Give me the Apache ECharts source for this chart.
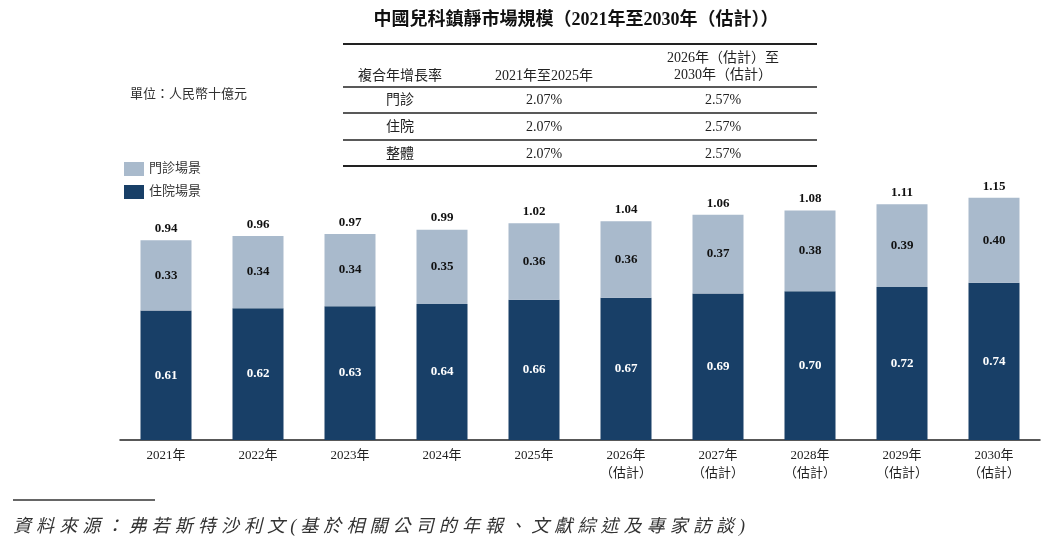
<!DOCTYPE html>
<html>
<head>
<meta charset="utf-8">
<script src="https://cdn.jsdelivr.net/npm/echarts@6/dist/echarts.min.js"></script>
<style>
  html, body { margin: 0; padding: 0; background: #fff; }
  #chart { width: 1058px; height: 552px; }
</style>
</head>
<body>
<div id="chart"></div>
<script>
// data
var years = ["2021年", "2022年", "2023年", "2024年", "2025年",
             "2026年\n（估計）", "2027年\n（估計）", "2028年\n（估計）", "2029年\n（估計）", "2030年\n（估計）"];
var outpatient = [0.33, 0.34, 0.34, 0.35, 0.36, 0.36, 0.37, 0.38, 0.39, 0.40];
var inpatient = [0.61, 0.62, 0.63, 0.64, 0.66, 0.67, 0.69, 0.70, 0.72, 0.74];
var totals = ["0.94", "0.96", "0.97", "0.99", "1.02", "1.04", "1.06", "1.08", "1.11", "1.15"];

var cagrHeader = ["複合年增長率", "2021年至2025年", "2026年（估計）至\n2030年（估計）"];
var cagrRows = ["門診", "住院", "整體"];
var cagrFirst = ["2.07%", "2.07%", "2.07%"];
var cagrSecond = ["2.57%", "2.57%", "2.57%"];

var title = "中國兒科鎮靜市場規模（2021年至2030年（估計））";
var unitText = "單位：人民幣十億元";
var sourceText = "資料來源：弗若斯特沙利文(基於相關公司的年報、文獻綜述及專家訪談)";

var SERIF = "'Liberation Serif', 'Noto Sans CJK TC', serif";
var LIGHT = "#a9bacc";
var DARK = "#183f67";

var chart = echarts.init(document.getElementById("chart"));

// table and texts around the chart
var colX = [400, 544, 723];
var rowY = [100, 127, 154];
var graphics = [
    { type: "text", x: 576, y: 20, style: { text: title, font: "bold 18px " + SERIF, fill: "#111", align: "center", verticalAlign: "middle" } },
    { type: "line", shape: { x1: 343, y1: 44, x2: 817, y2: 44 }, style: { stroke: "#222", lineWidth: 2 } },
    { type: "line", shape: { x1: 343, y1: 87, x2: 817, y2: 87 }, style: { stroke: "#222", lineWidth: 1.5 } },
    { type: "line", shape: { x1: 343, y1: 113, x2: 817, y2: 113 }, style: { stroke: "#222", lineWidth: 1.5 } },
    { type: "line", shape: { x1: 343, y1: 140, x2: 817, y2: 140 }, style: { stroke: "#222", lineWidth: 1.5 } },
    { type: "line", shape: { x1: 343, y1: 166, x2: 817, y2: 166 }, style: { stroke: "#222", lineWidth: 2 } },
    { type: "text", x: 130, y: 95, style: { text: unitText, font: "13px " + SERIF, fill: "#333", verticalAlign: "middle" } },
    { type: "line", shape: { x1: 13, y1: 500, x2: 155, y2: 500 }, style: { stroke: "#333", lineWidth: 1.5 } }
];
cagrHeader.forEach(function (h, i) {
    graphics.push({ type: "text", x: colX[i], y: i === 2 ? 67 : 76,
        style: { text: h, font: "14px " + SERIF, fill: "#222", align: "center", verticalAlign: "middle", lineHeight: 17 } });
});
cagrRows.forEach(function (r, i) {
    [r, cagrFirst[i], cagrSecond[i]].forEach(function (t, j) {
        graphics.push({ type: "text", x: colX[j], y: rowY[i],
            style: { text: t, font: "14px " + SERIF, fill: "#222", align: "center", verticalAlign: "middle" } });
    });
});
// source note, spaced like the original
var sx = 13;
Array.from(sourceText).forEach(function (ch) {
    graphics.push({ type: "text", x: sx, y: 527,
        style: { text: ch, font: "italic 18px " + SERIF, fill: "#333", verticalAlign: "middle" } });
    sx += (ch === "(" || ch === ")") ? 10 : 23.1;
});

var option = {
    animation: false,
    textStyle: { fontFamily: SERIF },
    legend: {
        orient: "vertical",
        left: 119,
        top: 157,
        itemWidth: 20,
        itemHeight: 14,
        itemGap: 9,
        icon: "rect",
        data: ["門診場景", "住院場景"],
        textStyle: { fontSize: 13, color: "#333", fontFamily: SERIF }
    },
    grid: { left: 120, right: 18, top: 185, bottom: 112 },
    xAxis: {
        type: "category",
        data: years,
        axisLine: { lineStyle: { color: "#222", width: 1.5 } },
        axisTick: { show: false },
        axisLabel: { color: "#222", fontSize: 13, lineHeight: 18, margin: 7, fontFamily: SERIF }
    },
    yAxis: { type: "value", min: 0, max: 1.2, show: false },
    graphic: graphics,
    series: [
        {
            name: "住院場景",
            type: "bar",
            stack: "total",
            data: inpatient,
            barWidth: 51,
            itemStyle: { color: DARK },
            label: { show: true, position: "inside", color: "#fff", fontWeight: "bold", fontSize: 13,
                formatter: function (p) { return p.value.toFixed(2); } }
        },
        {
            name: "門診場景",
            type: "bar",
            stack: "total",
            data: outpatient,
            barWidth: 51,
            itemStyle: { color: LIGHT },
            label: { show: true, position: "inside", color: "#111", fontWeight: "bold", fontSize: 13,
                formatter: function (p) { return p.value.toFixed(2); } }
        },
        {
            name: "合計",
            type: "bar",
            stack: "total",
            data: totals.map(function () { return 0; }),
            barWidth: 51,
            itemStyle: { color: "transparent" },
            label: { show: true, position: "top", distance: 5, color: "#111", fontWeight: "bold", fontSize: 13,
                formatter: function (p) { return totals[p.dataIndex]; } }
        }
    ]
};
chart.setOption(option);
</script>
</body>
</html>
